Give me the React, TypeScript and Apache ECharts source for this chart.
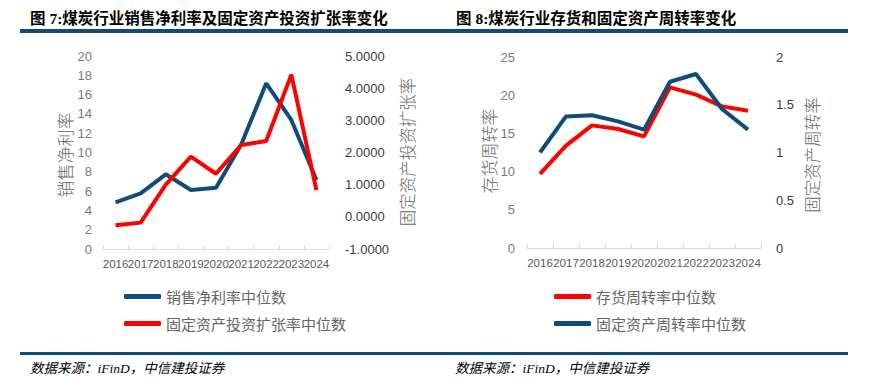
import React, { useEffect, useRef } from "react";
import * as echarts from "echarts";

const years = ["2016", "2017", "2018", "2019", "2020", "2021", "2022", "2023", "2024"];
const netMargin = [4.84, 5.77, 7.74, 6.11, 6.35, 10.8, 17.17, 13.37, 7.15];
const fixedInvExpansion = [-0.26, -0.18, 1.0, 1.87, 1.34, 2.23, 2.36, 4.42, 0.83];
const inventoryTurnover = [9.69, 13.39, 16.05, 15.57, 14.61, 21.02, 20.07, 18.54, 17.97];
const fixedAssetTurnover = [1.0, 1.378, 1.39, 1.326, 1.239, 1.741, 1.822, 1.455, 1.239];

const BLUE = "#0F4C7A";
const RED = "#FF0000";
const CJK = "'Noto Sans CJK SC', sans-serif";
const TITLE_FONT = "'Liberation Serif', 'Noto Sans CJK SC', serif";
const LABEL_FONT = "'Liberation Sans', 'Noto Sans CJK SC', sans-serif";

export default function App() {
  const ref = useRef<HTMLDivElement>(null);
  useEffect(() => {
    if (!ref.current) return;
    const chart = echarts.init(ref.current, undefined, { renderer: "svg" });
    const xAxisBase = (gridIndex: number) => ({
      type: "category" as const,
      gridIndex,
      data: years,
      boundaryGap: true,
      axisLine: { lineStyle: { color: "#d9d9d9" } },
      axisTick: { show: true, inside: true, length: 4, lineStyle: { color: "#d9d9d9" } },
      axisLabel: { interval: 0, margin: 9, fontSize: 11.5, color: "#595959", fontFamily: LABEL_FONT },
    });
    const yBase = (gridIndex: number, position: "left" | "right", color: string, margin: number) => ({
      type: "value" as const,
      gridIndex,
      position,
      axisLine: { show: false },
      axisTick: { show: false },
      splitLine: { show: false },
      axisLabel: { fontSize: 13, color, margin, fontFamily: LABEL_FONT },
    });
    const axisName = (text: string, x: number, y: number, size: number) => ({
      type: "text",
      x,
      y,
      rotation: Math.PI / 2,
      style: { text, fontSize: size, fill: "#666666", fontFamily: CJK, fontWeight: 300, align: "center", verticalAlign: "middle" },
    });
    chart.setOption({
      animation: false,
      backgroundColor: "#ffffff",
      grid: [
        { left: 103, top: 56, width: 226, height: 193 },
        { left: 527, top: 57, width: 234, height: 191 },
      ],
      xAxis: [xAxisBase(0), xAxisBase(1)],
      yAxis: [
        { ...yBase(0, "left", "#7a7a7a", 11), min: 0, max: 20, interval: 2 },
        {
          ...yBase(0, "right", "#404040", 16),
          min: -1,
          max: 5,
          interval: 1,
          axisLabel: { fontSize: 13, color: "#404040", margin: 16, fontFamily: LABEL_FONT, formatter: (v: number) => v.toFixed(4) },
        },
        { ...yBase(1, "left", "#7a7a7a", 12), min: 0, max: 25, interval: 5 },
        { ...yBase(1, "right", "#404040", 15), min: 0, max: 2, interval: 0.5 },
      ],
      legend: [
        {
          data: ["销售净利率中位数", "固定资产投资扩张率中位数"],
          orient: "vertical",
          left: 119,
          top: 284,
          itemWidth: 37,
          itemHeight: 5,
          itemGap: 12,
          icon: "roundRect",
          textStyle: { fontSize: 15, color: "#666666", fontFamily: CJK },
        },
        {
          data: ["存货周转率中位数", "固定资产周转率中位数"],
          orient: "vertical",
          left: 549,
          top: 284,
          itemWidth: 37,
          itemHeight: 5,
          itemGap: 12,
          icon: "roundRect",
          textStyle: { fontSize: 15, color: "#666666", fontFamily: CJK },
        },
      ],
      series: [
        { name: "销售净利率中位数", type: "line", xAxisIndex: 0, yAxisIndex: 0, data: netMargin, showSymbol: false, lineStyle: { width: 4, color: BLUE }, itemStyle: { color: BLUE } },
        { name: "固定资产投资扩张率中位数", type: "line", xAxisIndex: 0, yAxisIndex: 1, data: fixedInvExpansion, showSymbol: false, lineStyle: { width: 4, color: RED }, itemStyle: { color: RED } },
        { name: "存货周转率中位数", type: "line", xAxisIndex: 1, yAxisIndex: 2, data: inventoryTurnover, showSymbol: false, lineStyle: { width: 4, color: RED }, itemStyle: { color: RED } },
        { name: "固定资产周转率中位数", type: "line", xAxisIndex: 1, yAxisIndex: 3, data: fixedAssetTurnover, showSymbol: false, lineStyle: { width: 4, color: BLUE }, itemStyle: { color: BLUE } },
      ],
      graphic: [
        { type: "text", x: 30, y: 18, style: { text: "图 7:煤炭行业销售净利率及固定资产投资扩张率变化", fontSize: 15.5, fontWeight: "bold", fill: "#000", fontFamily: TITLE_FONT, verticalAlign: "middle" } },
        { type: "text", x: 456, y: 18, style: { text: "图 8:煤炭行业存货和固定资产周转率变化", fontSize: 15.5, fontWeight: "bold", fill: "#000", fontFamily: TITLE_FONT, verticalAlign: "middle" } },
        { type: "rect", shape: { x: 20, y: 29, width: 420, height: 4 }, style: { fill: BLUE } },
        { type: "rect", shape: { x: 440, y: 29, width: 408, height: 4 }, style: { fill: BLUE } },
        axisName("销售净利率", 64, 155, 17),
        axisName("固定资产投资扩张率", 407, 152, 16.5),
        axisName("存货周转率", 488, 151, 17),
        axisName("固定资产周转率", 812, 155, 16.5),
        { type: "rect", shape: { x: 20, y: 352, width: 420, height: 3 }, style: { fill: BLUE } },
        { type: "rect", shape: { x: 440, y: 352, width: 408, height: 3 }, style: { fill: BLUE } },
        { type: "text", x: 30, y: 368, style: { text: "数据来源：iFinD，中信建投证券", fontSize: 13.5, fontStyle: "italic", fill: "#000", fontFamily: TITLE_FONT, verticalAlign: "middle" } },
        { type: "text", x: 455, y: 368, style: { text: "数据来源：iFinD，中信建投证券", fontSize: 13.5, fontStyle: "italic", fill: "#000", fontFamily: TITLE_FONT, verticalAlign: "middle" } },
      ],
    });
    return () => chart.dispose();
  }, []);
  return <div ref={ref} style={{ position: "absolute", left: 0, top: 0, width: 871, height: 379 }} />;
}
